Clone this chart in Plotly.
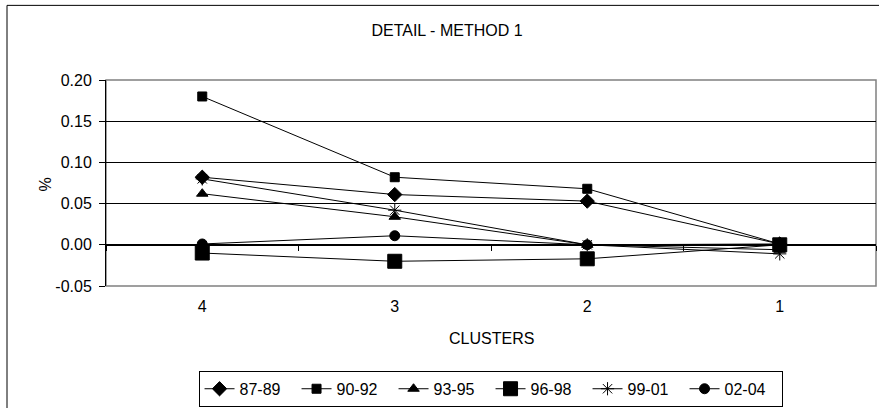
import plotly.graph_objects as go

clusters = ["4", "3", "2", "1"]
s8789 = [0.082, 0.061, 0.053, 0.001]
s9092 = [0.180, 0.082, 0.068, 0.001]
s9395 = [0.062, 0.034, 0.000, -0.006]
s9698 = [-0.010, -0.020, -0.017, 0.000]
s9901 = [0.080, 0.042, 0.000, -0.011]
s0204 = [0.001, 0.011, 0.000, 0.001]
yticks = [-0.05, 0.00, 0.05, 0.10, 0.15, 0.20]
ytick_labels = [f"{v:.2f}" for v in yticks]

FONT = "Liberation Sans, Arial, sans-serif"
FS = 16
series = [
    ("87-89", s8789, "diamond", 11),
    ("90-92", s9092, "square", 9),
    ("93-95", s9395, "triangle-up", 10),
    ("96-98", s9698, "square", 14),
    ("99-01", s9901, "asterisk-open", 11),
    ("02-04", s0204, "circle", 10),
]

fig = go.Figure()
for name, vals, sym, size in series:
    fig.add_trace(go.Scatter(
        x=clusters, y=vals, name=name, mode="lines+markers",
        line=dict(color="black", width=1),
        marker=dict(symbol=sym, size=size, color="black",
                    line=dict(color="black", width=1)),
    ))

# empty trace on the overlay axis that draws the category axis at y = 0
fig.add_trace(go.Scatter(x=clusters, y=[None]*4, xaxis="x2", showlegend=False,
                         hoverinfo="skip", mode="lines"))

fig.update_layout(
    width=879, height=408,
    margin=dict(l=106, r=3, t=80, b=121),
    paper_bgcolor="white", plot_bgcolor="white",
    font=dict(family=FONT, size=FS, color="black"),
    title=dict(text="DETAIL - METHOD 1", x=447/879, xanchor="center",
               y=1-30/408, yanchor="middle", font=dict(size=FS)),
    showlegend=True,
    legend=dict(orientation="h", x=0.4994, xanchor="center", y=-0.405, yanchor="top",
                bordercolor="black", borderwidth=1, font=dict(size=FS),
                entrywidth=52, tracegroupgap=0),
    xaxis=dict(type="category", categoryorder="array", categoryarray=clusters,
               range=[-0.5, 3.5],
               showgrid=False, zeroline=False, showline=False,
               ticks="", ticklabelstandoff=9, tickfont=dict(size=FS)),
    xaxis2=dict(type="category", categoryorder="array", categoryarray=clusters,
                range=[-0.5, 3.5],
                overlaying="x", anchor="free", position=0.2, showgrid=False,
                showline=True, linecolor="black", linewidth=1,
                ticks="outside", tickson="boundaries", ticklen=5, tickcolor="black",
                showticklabels=False),
    yaxis=dict(range=[-0.05, 0.20], tickvals=yticks, ticktext=ytick_labels,
               showgrid=True, gridcolor="black", gridwidth=1, zeroline=False,
               showline=True, linecolor="black", ticks="outside", ticklen=6,
               tickcolor="black", ticklabelstandoff=4, tickfont=dict(size=FS)),
    annotations=[
        dict(text="CLUSTERS", xref="paper", yref="paper", x=(491-106)/770,
             y=(287-340)/207, showarrow=False, xanchor="center", yanchor="middle",
             font=dict(size=FS)),
        dict(text="%", xref="paper", yref="paper", x=(45-106)/770,
             y=(287-185)/207, showarrow=False, textangle=-90,
             xanchor="center", yanchor="middle", font=dict(size=FS)),
    ],
    shapes=[
        dict(type="rect", xref="paper", yref="paper", x0=(7-106)/770, x1=1.05,
             y0=-0.7, y1=(287-5)/207, line=dict(color="black", width=1),
             fillcolor="rgba(0,0,0,0)", layer="below"),
        dict(type="rect", xref="paper", yref="paper", x0=0, x1=1, y0=0, y1=1,
             line=dict(color="#808080", width=1.5),
             fillcolor="rgba(0,0,0,0)", layer="below"),
    ],
)

fig.write_html("out.html")
